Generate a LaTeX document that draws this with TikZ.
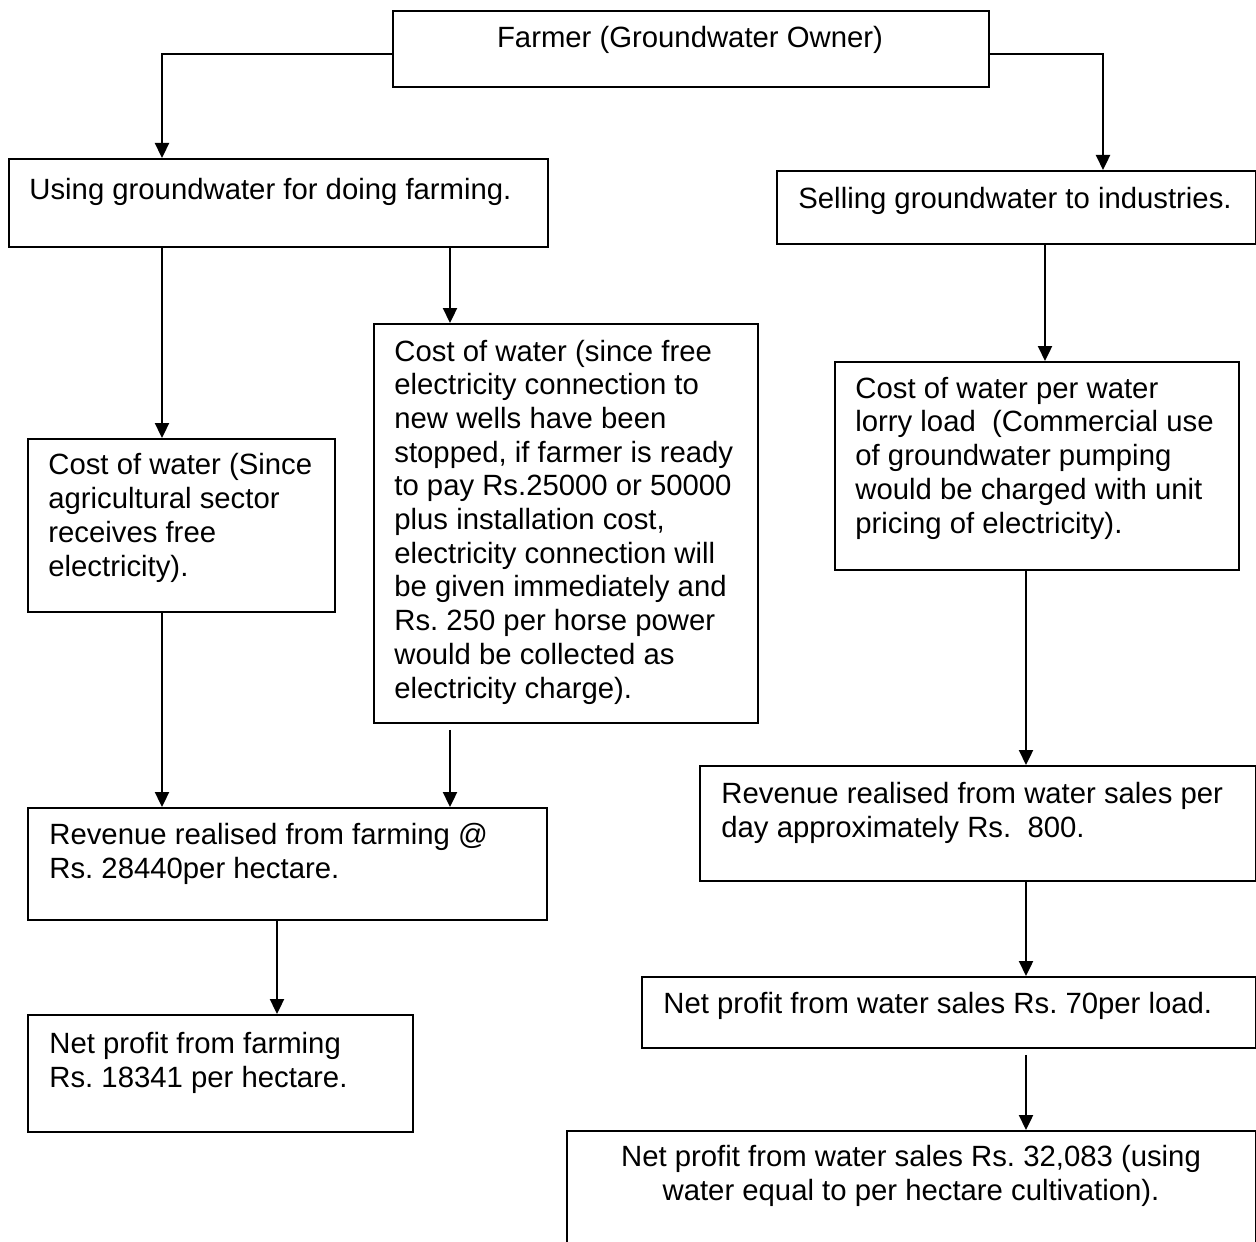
\documentclass[tikz,border=0pt]{standalone}
\usepackage{fontspec}
\setmainfont{Liberation Sans}
\frenchspacing
\usetikzlibrary{arrows.meta}
\tikzstyle{box} = [rectangle, draw=black, line width=0.9pt, anchor=north west, inner sep=0]
\tikzstyle{txt} = [anchor=base west, inner sep=0, align=left, font=\fontsize{14.65pt}{16.85pt}\selectfont]
\tikzstyle{arrow} = [line width=1.15pt, -{Triangle[length=7.5pt,width=7pt]}]

\begin{document}
\begin{tikzpicture}[x=0.5pt,y=-0.5pt]
\useasboundingbox (0,0) rectangle (1256,1241);

\node[box, minimum width=298pt, minimum height=38pt] (farmer) at (392,10) {};
\node[box, minimum width=269.5pt, minimum height=44pt] (farming) at (8,158) {};
\node[box, minimum width=239.5pt, minimum height=36.5pt] (selling) at (776,170) {};
\node[box, minimum width=153.5pt, minimum height=86.5pt] (freecost) at (27,438) {};
\node[box, minimum width=192pt, minimum height=199.5pt] (paidcost) at (373,323) {};
\node[box, minimum width=202pt, minimum height=104pt] (lorrycost) at (834,361) {};
\node[box, minimum width=259.5pt, minimum height=56pt] (farmrev) at (27,807) {};
\node[box, minimum width=192.5pt, minimum height=58.5pt] (farmprofit) at (27,1014) {};
\node[box, minimum width=278pt, minimum height=57.5pt] (salesrev) at (699,765) {};
\node[box, minimum width=307pt, minimum height=35.5pt] (loadprofit) at (641,976) {};
\node[box, minimum width=344.5pt, minimum height=60pt] (haprofit) at (566,1130) {};

% text sits on the baseline of its last line
\node[txt, anchor=base] (farmerT) at (690,48) {Farmer (Groundwater Owner)};
\node[txt] (farmingT) at (29,199) {Using groundwater for doing farming.};
\node[txt] (sellingT) at (798,208) {Selling groundwater to industries.};
\node[txt] (freecostT) at (48,576) {Cost of water (Since\\agricultural sector\\receives free\\electricity).};
\node[txt] (paidcostT) at (394,698) {Cost of water (since free\\electricity connection to\\new wells have been\\stopped, if farmer is ready\\to pay Rs.25000 or 50000\\plus installation cost,\\electricity connection will\\be given immediately and\\Rs. 250 per horse power\\would be collected as\\electricity charge).};
\node[txt] (lorrycostT) at (855,533) {Cost of water per water\\lorry load~ (Commercial use\\of groundwater pumping\\would be charged with unit\\pricing of electricity).};
\node[txt] (farmrevT) at (49,878) {Revenue realised from farming @\\Rs. 28440per hectare.};
\node[txt] (farmprofitT) at (49,1087) {Net profit from farming\\Rs. 18341 per hectare.};
\node[txt] (salesrevT) at (721,837) {Revenue realised from water sales per\\day approximately Rs.~ 800.};
\node[txt] (loadprofitT) at (663,1013) {Net profit from water sales Rs. 70per load.};
\node[txt, anchor=base, align=center] (haprofitT) at (911,1200) {Net profit from water sales Rs. 32,083 (using\\water equal to per hectare cultivation).};

\draw[arrow] (farmer.west |- 0,54) -| (162,0 |- farming.north);
\draw[arrow] (farmer.east |- 0,54) -| (1103,0 |- selling.north);
\foreach \x/\a/\b/\s in {162/farming/freecost/0, 450/farming/paidcost/0, 1045/selling/lorrycost/0,
	162/freecost/farmrev/0, 450/paidcost/farmrev/3, 1026/lorrycost/salesrev/0,
	277/farmrev/farmprofit/0, 1026/salesrev/loadprofit/0, 1026/loadprofit/haprofit/3}{
	\draw[arrow, shorten <=\s pt] (\x,0 |- \a.south) -- (\x,0 |- \b.north);}
\end{tikzpicture}
\end{document}
